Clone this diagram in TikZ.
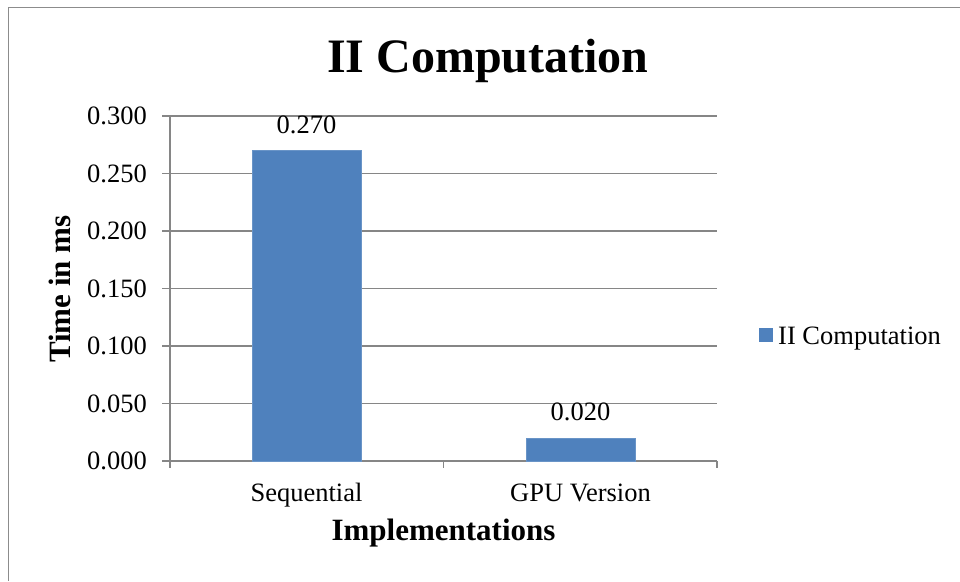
\documentclass[tikz,border=0pt]{standalone}
\usepackage{fontspec}
\setmainfont{Liberation Serif}
\definecolor{barblue}{HTML}{4F81BD}
\definecolor{gridgray}{HTML}{868686}
\definecolor{framegray}{HTML}{8C8C8C}
\begin{document}
\begin{tikzpicture}[x=1pt,y=-1pt,
  gridline/.style={draw=gridgray,line width=1.4pt},
  ticklabel/.style={font=\fontsize{26.5}{30}\selectfont,inner sep=0pt},
  catlabel/.style={font=\fontsize{26.5}{30}\selectfont,inner sep=0pt,anchor=base},
  vallabel/.style={font=\fontsize{26.5}{30}\selectfont,inner sep=0pt},
  axistitle/.style={font=\fontsize{31}{34}\selectfont\bfseries,inner sep=0pt,anchor=base},
  bar/.style={fill=barblue,draw=barblue!85!white,line width=0.6pt}]
\useasboundingbox (0,0) rectangle (960,581);
% chart frame (only top and left edges fall inside)
\draw[framegray,line width=1.6pt] (960,7.5) -- (8.5,7.5) -- (8.5,581);
% title
\node[font=\fontsize{48}{52}\selectfont\bfseries,inner sep=0pt,anchor=base] (title) at (488,72) {II Computation};
% horizontal gridlines with value labels
\foreach \v/\t [count=\i] in {0/0.000,1/0.050,2/0.100,3/0.150,4/0.200,5/0.250,6/0.300}{
  \pgfmathsetmacro{\yy}{461-\v*57.5}
  \draw[gridline] (162,\yy) -- (717,\yy);
  \node[ticklabel,anchor=east] (ytick\i) at (147,\yy) {\t};
}
% axes and category ticks
\draw[gridline] (170,116) -- (170,461);
\foreach \xx in {170,443.5,717}{
  \draw[gridline] (\xx,461) -- (\xx,468);
}
% bars
\filldraw[bar] (252,461) rectangle (361,150.5);
\filldraw[bar] (526,461) rectangle (635,438);
% value labels
\node[vallabel] (v1) at (306.5,124.5) {0.270};
\node[vallabel] (v2) at (580.5,412) {0.020};
% category labels
\node[catlabel] (c1) at (306.5,501) {Sequential};
\node[catlabel] (c2) at (580.5,501) {GPU Version};
% axis titles
\node[axistitle] (xt) at (443.5,540) {Implementations};
\node[axistitle,rotate=90] (yt) at (70,289) {Time in ms};
% legend
\fill[barblue] (759,328) rectangle (773,342);
\node[font=\fontsize{26.5}{30}\selectfont,inner sep=0pt,anchor=base west] (leg) at (778,344) {II Computation};
\end{tikzpicture}
\end{document}
